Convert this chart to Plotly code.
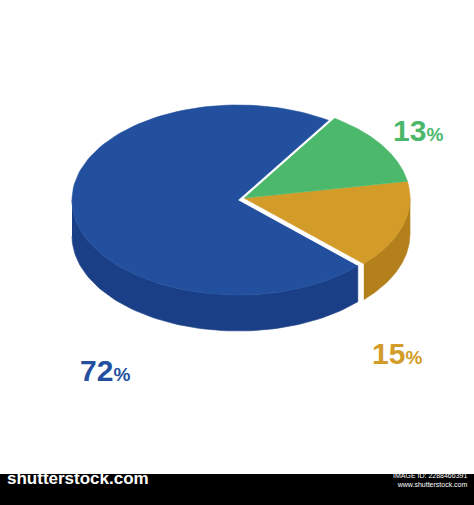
import numpy as np
import plotly.graph_objects as go

labels = ["72%", "13%", "15%"]
values = [72, 13, 15]
top_colors = ["#22509f", "#4bb86c", "#d39c29"]
side_colors = ["#1b3f86", "#3a9656", "#b3801c"]
text_colors = ["#22509f", "#4bb86c", "#d39c29"]

cx, cy, rx, ry, depth = 238, 200, 166, 95, 36
start = 57.0

fig = go.Figure()


def pt(a, off=(0, 0), dz=0):
    r = np.radians(a)
    return cx + off[0] + rx * np.cos(r), cy + off[1] - ry * np.sin(r) + dz


def poly(xs, ys, color):
    fig.add_trace(go.Scatter(x=xs, y=ys, fill="toself", fillcolor=color, mode="lines",
                             line=dict(width=0.6, color=color), hoverinfo="skip", showlegend=False))


# angles: blue goes ccw from start, the others clockwise after it
spans = [v / sum(values) * 360 for v in values]
a_blue = (start, start + spans[0])
a_green = (start - spans[1], start)
a_gold = (start - spans[1] - spans[2], start - spans[1])
ranges = [a_blue, a_green, a_gold]
offs = [(0, 0), (6, -2), (6, -2)]

for i in [0, 2, 1]:
    a0, a1 = ranges[i]
    off = offs[i]
    b0, b1 = a0, a1
    if b0 < 0:
        b0, b1 = b0 + 360, b1 + 360
    s0, s1 = max(b0, 180), min(b1, 360)
    if s1 > s0:
        t = np.linspace(s0, s1, 80)
        pts = [pt(a, off) for a in t] + [pt(a, off, depth) for a in t[::-1]]
        poly([p[0] for p in pts], [p[1] for p in pts], side_colors[i])
    t = np.linspace(a0, a1, 120)
    pts = [(cx + off[0], cy + off[1])] + [pt(a, off) for a in t]
    poly([p[0] for p in pts], [p[1] for p in pts], top_colors[i])

label_pos = [(105, 370), (418, 130), (397, 353)]
for lab, col, (x, y) in zip(labels, text_colors, label_pos):
    fig.add_annotation(x=x, y=y, text=f"<b>{lab[:-1]}<span style='font-size:19px'>%</span></b>",
                       showarrow=False, font=dict(size=30, color=col, family="Liberation Sans"))

fig.add_shape(type="rect", xref="paper", yref="paper", x0=0, x1=1, y0=0, y1=31 / 505,
              fillcolor="#000000", line_width=0)
fig.add_annotation(xref="paper", yref="paper", x=0.01, y=15 / 505, xanchor="left",
                   text="<b>shutterstock.com</b>", showarrow=False,
                   font=dict(size=17, color="white", family="Liberation Sans"))
fig.add_annotation(xref="paper", yref="paper", x=0.99, y=15 / 505, xanchor="right",
                   text="IMAGE ID: 2288466391<br>www.shutterstock.com", showarrow=False, align="right",
                   font=dict(size=7, color="white", family="Liberation Sans"))

fig.update_xaxes(range=[0, 474], visible=False)
fig.update_yaxes(range=[505, 0], visible=False)
fig.update_layout(width=474, height=505, margin=dict(l=0, r=0, t=0, b=0),
                  paper_bgcolor="white", plot_bgcolor="white")
fig.write_html("out.html", config={"displayModeBar": False},
               post_script="document.body.style.margin='0';document.body.style.overflow='hidden';")
